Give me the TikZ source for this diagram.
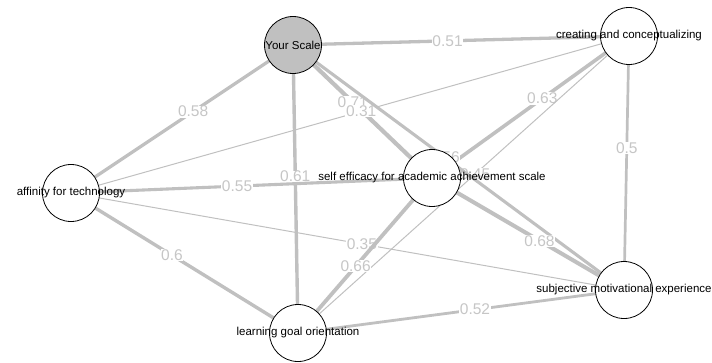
\documentclass[tikz,border=0pt]{standalone}
\usepackage{fontspec}
\setmainfont{Liberation Sans}
\pgfdeclarelayer{edgelayer}
\pgfsetlayers{edgelayer,main}
\definecolor{edgegray}{RGB}{192,192,192}
\definecolor{labgray}{RGB}{198,198,198}
\definecolor{nodefill}{RGB}{192,192,192}
\tikzset{
  vnode/.style={circle, draw=black, line width=0.8pt, fill=white, minimum size=57pt, inner sep=0pt},
  vtext/.style={font=\fontsize{11.5}{12}\selectfont, text=black, inner sep=0pt},
  hl/.style={fill=nodefill},
  edgeline/.style={draw=edgegray, line width=#1},
  elabel/.style={fill=white, text=labgray, inner sep=0.6pt, font=\fontsize{15.5}{15.5}\selectfont},
}
\begin{document}
\begin{tikzpicture}[x=1pt,y=-1pt]
\useasboundingbox (0,0) rectangle (712,362);
\node[vnode,hl] (Y) at (293,45) {};
\node[vnode] (C) at (629,36) {};
\node[vnode] (A) at (71,193) {};
\node[vnode] (S) at (432,178) {};
\node[vnode] (M) at (624,290) {};
\node[vnode] (L) at (298,333) {};
\node[vtext] (Yt) at (Y.center) {Your Scale};
\node[vtext] (Ct) at (C.center) {creating and conceptualizing};
\node[vtext] (At) at (A.center) {affinity for technology};
\node[vtext] (St) at (S.center) {self efficacy for academic achievement scale};
\node[vtext] (Mt) at (M.center) {subjective motivational experience};
\node[vtext] (Lt) at (L.center) {learning goal orientation};
\begin{pgfonlayer}{edgelayer}
\draw[edgeline=3.3pt] (Y.center) -- node[elabel,pos=0.46]{0.51} (C.center);
\draw[edgeline=3.3pt] (Y.center) -- node[elabel,pos=0.45]{0.58} (A.center);
\draw[edgeline=4.2pt] (Y.center) -- node[elabel,pos=0.43]{0.71} (S.center);
\draw[edgeline=1pt] (C.center) -- node[elabel,pos=0.48]{0.31} (A.center);
\draw[edgeline=3.4pt] (Y.center) -- node[elabel,pos=0.457]{0.61} (L.center);
\draw[edgeline=3.1pt] (A.center) -- node[elabel,pos=0.46]{0.55} (S.center);
\draw[edgeline=1pt] (M.center) -- node[elabel,pos=0.474]{0.35} (A.center);
\draw[edgeline=3.4pt] (A.center) -- node[elabel,pos=0.445]{0.6} (L.center);
\draw[edgeline=3.6pt] (C.center) -- node[elabel,pos=0.44]{0.63} (S.center);
\draw[edgeline=1pt] (C.center) -- node[elabel,pos=0.465]{0.45} (L.center);
\draw[edgeline=3.1pt] (Y.center) -- node[elabel,pos=0.458]{0.56} (M.center);
\draw[edgeline=2.7pt] (C.center) -- node[elabel,pos=0.44]{0.5} (M.center);
\draw[edgeline=4pt] (M.center) -- node[elabel,pos=0.44]{0.68} (S.center);
\draw[edgeline=3.8pt] (L.center) -- node[elabel,pos=0.43]{0.66} (S.center);
\draw[edgeline=2.8pt] (M.center) -- node[elabel,pos=0.457]{0.52} (L.center);
\end{pgfonlayer}
\end{tikzpicture}
\end{document}
